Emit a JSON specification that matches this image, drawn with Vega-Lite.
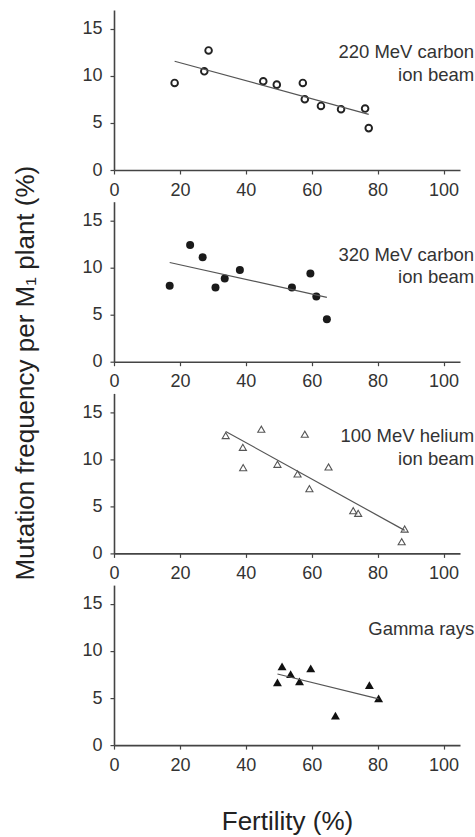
{
  "$schema": "https://vega.github.io/schema/vega-lite/v6.json",
  "padding": {"left": 11, "top": 10, "right": 0, "bottom": 0},
  "background": "white",
  "config": {
    "view": {"stroke": null},
    "font": "Liberation Sans",
    "axis": {"grid": false, "domainColor": "#444", "domainWidth": 1.6, "tickColor": "#444", "tickWidth": 1.2, "tickSize": 4, "labelColor": "#333", "labelFont": "Liberation Sans", "labelFontSize": 18, "titleFont": "Liberation Sans", "titleFontSize": 26, "titleFontWeight": "normal", "titleColor": "#222", "labelFlush": false},
    "axisX": {"labelPadding": 7},
    "axisY": {"labelPadding": 8}
  },
  "datasets": {
    "d": [
      {"group": "A", "fertility": 18.4, "mutation": 9.25},
      {"group": "A", "fertility": 27.4, "mutation": 10.49},
      {"group": "A", "fertility": 28.7, "mutation": 12.7},
      {"group": "A", "fertility": 45.3, "mutation": 9.43},
      {"group": "A", "fertility": 49.4, "mutation": 9.07},
      {"group": "A", "fertility": 57.3, "mutation": 9.25},
      {"group": "A", "fertility": 57.9, "mutation": 7.52},
      {"group": "A", "fertility": 62.8, "mutation": 6.81},
      {"group": "A", "fertility": 68.9, "mutation": 6.46},
      {"group": "A", "fertility": 76.2, "mutation": 6.53},
      {"group": "A", "fertility": 77.3, "mutation": 4.45},
      {"group": "B", "fertility": 16.9, "mutation": 8.07},
      {"group": "B", "fertility": 23.1, "mutation": 12.41},
      {"group": "B", "fertility": 26.9, "mutation": 11.09},
      {"group": "B", "fertility": 30.8, "mutation": 7.89},
      {"group": "B", "fertility": 33.6, "mutation": 8.85},
      {"group": "B", "fertility": 38.2, "mutation": 9.74},
      {"group": "B", "fertility": 54.0, "mutation": 7.89},
      {"group": "B", "fertility": 59.6, "mutation": 9.38},
      {"group": "B", "fertility": 61.4, "mutation": 6.93},
      {"group": "B", "fertility": 64.6, "mutation": 4.52},
      {"group": "C", "fertility": 33.9, "mutation": 12.52},
      {"group": "C", "fertility": 39.1, "mutation": 11.27},
      {"group": "C", "fertility": 39.2, "mutation": 9.11},
      {"group": "C", "fertility": 44.7, "mutation": 13.19},
      {"group": "C", "fertility": 49.6, "mutation": 9.47},
      {"group": "C", "fertility": 55.7, "mutation": 8.44},
      {"group": "C", "fertility": 57.9, "mutation": 12.66},
      {"group": "C", "fertility": 59.3, "mutation": 6.88},
      {"group": "C", "fertility": 65.1, "mutation": 9.18},
      {"group": "C", "fertility": 72.6, "mutation": 4.54},
      {"group": "C", "fertility": 74.1, "mutation": 4.26},
      {"group": "C", "fertility": 88.2, "mutation": 2.59},
      {"group": "C", "fertility": 87.3, "mutation": 1.24},
      {"group": "D", "fertility": 49.6, "mutation": 6.67},
      {"group": "D", "fertility": 51.0, "mutation": 8.37},
      {"group": "D", "fertility": 53.6, "mutation": 7.55},
      {"group": "D", "fertility": 56.3, "mutation": 6.77},
      {"group": "D", "fertility": 59.7, "mutation": 8.16},
      {"group": "D", "fertility": 67.2, "mutation": 3.12},
      {"group": "D", "fertility": 77.5, "mutation": 6.38},
      {"group": "D", "fertility": 80.3, "mutation": 4.96}
    ]
  },
  "bounds": "flush",
  "spacing": 31.7,
  "vconcat": [
    {
      "width": 346, "height": 160,
      "data": {"name": "d"},
      "transform": [{"filter": "datum.group === 'A'"}],
      "layer": [
        {
          "mark": {"type": "point", "shape": "circle", "filled": false, "stroke": "#222", "strokeWidth": 1.9, "size": 44, "opacity": 1},
          "encoding": {
            "x": {"field": "fertility", "type": "quantitative", "scale": {"domain": [0, 105], "nice": false}, "axis": {"values": [0, 20, 40, 60, 80, 100], "title": null}},
            "y": {"field": "mutation", "type": "quantitative", "scale": {"domain": [0, 17], "nice": false}, "axis": {"values": [0, 5, 10, 15], "title": null}}
          }
        },
        {
          "transform": [{"regression": "mutation", "on": "fertility"}],
          "mark": {"type": "line", "color": "#555", "strokeWidth": 1.2},
          "encoding": {"x": {"field": "fertility", "type": "quantitative"}, "y": {"field": "mutation", "type": "quantitative"}}
        },
        {
          "data": {"values": [{}]},
          "mark": {"type": "text", "align": "right", "baseline": "alphabetic", "fontSize": 18.5, "color": "#333", "lineHeight": 22.7},
          "encoding": {"x": {"datum": 109.3}, "y": {"datum": 11.87}, "text": {"value": ["220 MeV carbon", "ion beam"]}}
        }
      ]
    },
    {
      "width": 346, "height": 160,
      "data": {"name": "d"},
      "transform": [{"filter": "datum.group === 'B'"}],
      "layer": [
        {
          "mark": {"type": "point", "shape": "circle", "filled": true, "color": "#1a1a1a", "size": 64, "opacity": 1},
          "encoding": {
            "x": {"field": "fertility", "type": "quantitative", "scale": {"domain": [0, 105], "nice": false}, "axis": {"values": [0, 20, 40, 60, 80, 100], "title": null}},
            "y": {"field": "mutation", "type": "quantitative", "scale": {"domain": [0, 17], "nice": false}, "axis": {"values": [0, 5, 10, 15], "title": "Mutation frequency per M₁ plant (%)", "titleX": -89, "titleY": 171, "titleBaseline": "middle", "titleAlign": "center", "titleAngle": 270}}
          }
        },
        {
          "transform": [{"regression": "mutation", "on": "fertility"}],
          "mark": {"type": "line", "color": "#555", "strokeWidth": 1.2},
          "encoding": {"x": {"field": "fertility", "type": "quantitative"}, "y": {"field": "mutation", "type": "quantitative"}}
        },
        {
          "data": {"values": [{}]},
          "mark": {"type": "text", "align": "right", "baseline": "alphabetic", "fontSize": 18.5, "color": "#333", "lineHeight": 22.7},
          "encoding": {"x": {"datum": 109.3}, "y": {"datum": 10.73}, "text": {"value": ["320 MeV carbon", "ion beam"]}}
        }
      ]
    },
    {
      "width": 346, "height": 160,
      "data": {"name": "d"},
      "transform": [{"filter": "datum.group === 'C'"}],
      "layer": [
        {
          "mark": {"type": "point", "shape": "triangle-up", "filled": false, "stroke": "#555", "strokeWidth": 1.1, "size": 50, "opacity": 1},
          "encoding": {
            "x": {"field": "fertility", "type": "quantitative", "scale": {"domain": [0, 105], "nice": false}, "axis": {"values": [0, 20, 40, 60, 80, 100], "title": null}},
            "y": {"field": "mutation", "type": "quantitative", "scale": {"domain": [0, 17], "nice": false}, "axis": {"values": [0, 5, 10, 15], "title": null}}
          }
        },
        {
          "transform": [{"regression": "mutation", "on": "fertility"}],
          "mark": {"type": "line", "color": "#555", "strokeWidth": 1.2},
          "encoding": {"x": {"field": "fertility", "type": "quantitative"}, "y": {"field": "mutation", "type": "quantitative"}}
        },
        {
          "data": {"values": [{}]},
          "mark": {"type": "text", "align": "right", "baseline": "alphabetic", "fontSize": 18.5, "color": "#333", "lineHeight": 22.7},
          "encoding": {"x": {"datum": 109.3}, "y": {"datum": 11.8}, "text": {"value": ["100 MeV helium", "ion beam"]}}
        }
      ]
    },
    {
      "width": 346, "height": 160,
      "data": {"name": "d"},
      "transform": [{"filter": "datum.group === 'D'"}],
      "layer": [
        {
          "mark": {"type": "point", "shape": "triangle-up", "filled": true, "color": "#111", "size": 80, "opacity": 1},
          "encoding": {
            "x": {"field": "fertility", "type": "quantitative", "scale": {"domain": [0, 105], "nice": false}, "axis": {"values": [0, 20, 40, 60, 80, 100], "title": "Fertility (%)", "titlePadding": 34}},
            "y": {"field": "mutation", "type": "quantitative", "scale": {"domain": [0, 17], "nice": false}, "axis": {"values": [0, 5, 10, 15], "title": null}}
          }
        },
        {
          "transform": [{"regression": "mutation", "on": "fertility"}],
          "mark": {"type": "line", "color": "#555", "strokeWidth": 1.2},
          "encoding": {"x": {"field": "fertility", "type": "quantitative"}, "y": {"field": "mutation", "type": "quantitative"}}
        },
        {
          "data": {"values": [{}]},
          "mark": {"type": "text", "align": "right", "baseline": "alphabetic", "fontSize": 18.5, "color": "#333"},
          "encoding": {"x": {"datum": 109.3}, "y": {"datum": 11.7}, "text": {"value": "Gamma rays"}}
        }
      ]
    }
  ]
}
